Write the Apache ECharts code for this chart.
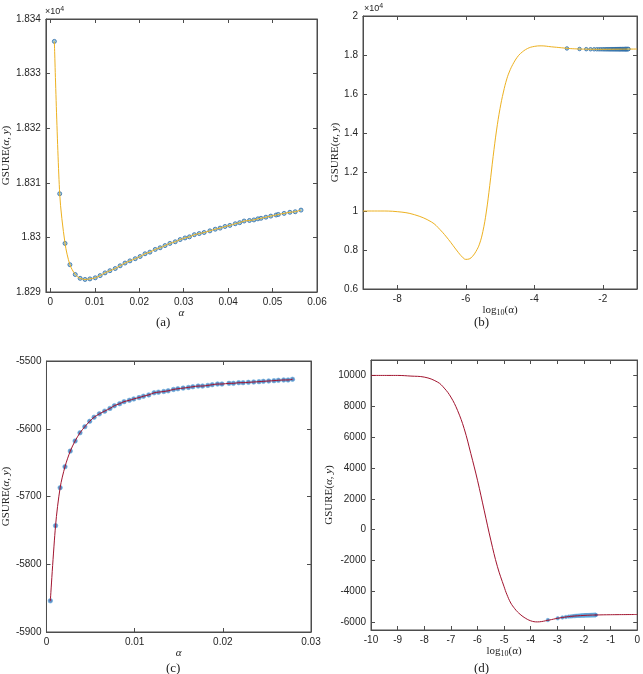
<!DOCTYPE html>
<html>
<head>
<meta charset="utf-8">
<script src="https://cdn.jsdelivr.net/npm/echarts@6/dist/echarts.min.js"></script>
<style>
html, body { margin: 0; padding: 0; background: #fff; }
#main { width: 643px; height: 674px; }
</style>
</head>
<body>
<div id="main"></div>
<script>
// (a) GSURE against alpha, first curve
const alphaA = [0.0009, 0.0021, 0.0033, 0.0044, 0.0056, 0.0067, 0.0078, 0.0089, 0.0101, 0.0112,
  0.0123, 0.0134, 0.0146, 0.0157, 0.0168, 0.0179, 0.0191, 0.0202, 0.0213, 0.0224,
  0.0236, 0.0247, 0.0258, 0.0269, 0.0281, 0.0292, 0.0303, 0.0313, 0.0324, 0.0335,
  0.0346, 0.0359, 0.0371, 0.0382, 0.0393, 0.0404, 0.0416, 0.0426, 0.0436, 0.0448,
  0.0458, 0.0467, 0.0474, 0.0485, 0.0496, 0.0508, 0.0513, 0.0526, 0.0539, 0.0551, 0.0564]
const gsureA = [18335.9, 18308.0, 18298.9, 18295.0, 18293.2, 18292.5, 18292.3, 18292.4, 18292.6, 18293.0,
  18293.5, 18293.9, 18294.3, 18294.8, 18295.3, 18295.7, 18296.1, 18296.5, 18297.0, 18297.3,
  18297.8, 18298.1, 18298.5, 18298.9, 18299.2, 18299.6, 18299.9, 18300.1, 18300.5, 18300.7,
  18300.9, 18301.2, 18301.5, 18301.7, 18302.0, 18302.2, 18302.5, 18302.7, 18303.0, 18303.1,
  18303.2, 18303.4, 18303.5, 18303.7, 18303.9, 18304.1, 18304.2, 18304.4, 18304.6, 18304.7, 18305.0]

// (b) same function over log10(alpha)
const logCurveB = [-9, -8.5, -8, -7.5, -7, -6.75, -6.5, -6.25, -6.1, -6.0, -5.9, -5.8, -5.7, -5.6, -5.5,
  -5.4, -5.3, -5.2, -5.1, -5.0, -4.9, -4.8, -4.7, -4.6, -4.5, -4.4, -4.2, -4.0, -3.8, -3.5,
  -3.2, -3.0, -2.75, -2.5, -2.0, -1.5, -1.0]
const gsureCurveB = [10000, 10000, 9966, 9812, 9436, 9043, 8530, 7949, 7640, 7520, 7540, 7680, 7930, 8300, 8950,
  9950, 11300, 12800, 14150, 15250, 16100, 16780, 17250, 17600, 17880, 18080, 18330, 18440, 18470, 18420,
  18370, 18336, 18312, 18299, 18293, 18300, 18306]

// (c) GSURE against alpha, second curve
const alphaC = [0.00044, 0.00103, 0.00155, 0.0021, 0.0027, 0.00325, 0.0038, 0.00435, 0.0049, 0.0054,
  0.0060, 0.0066, 0.0072, 0.0077, 0.0083, 0.0088, 0.0094, 0.0099, 0.0105, 0.0110,
  0.0116, 0.0122, 0.0127, 0.0133, 0.0138, 0.0144, 0.0149, 0.0155, 0.0161, 0.0166,
  0.0172, 0.0177, 0.0183, 0.0188, 0.0194, 0.0199, 0.0207, 0.0212, 0.0218, 0.0223,
  0.0229, 0.0235, 0.0241, 0.0246, 0.0252, 0.0258, 0.0263, 0.0269, 0.0274, 0.0279]
const gsureC = [-5854, -5743, -5687, -5656, -5633, -5618, -5606, -5597, -5589, -5583,
  -5578, -5574, -5570, -5566, -5563, -5560, -5558, -5556, -5554, -5552,
  -5550, -5547, -5546, -5545, -5544, -5542, -5541, -5540, -5539, -5538,
  -5537, -5537, -5536, -5535, -5534, -5534, -5533, -5533, -5532, -5532,
  -5531.5, -5531, -5530.5, -5530, -5529.5, -5529, -5528.5, -5528, -5528, -5527]

// (d) second function over log10(alpha)
const logCurveD = [-10, -9, -8.5, -8, -7.5, -7.25, -7, -6.75, -6.5, -6.25, -6, -5.75, -5.5, -5.25, -5,
  -4.9, -4.75, -4.6, -4.5, -4.4, -4.25, -4, -3.75, -3.6, -3.45, -3.3, -3, -2.8, -2.5, -2, -1.55, -1, 0]
const gsureCurveD = [10000, 10000, 9957, 9892, 9569, 9180, 8598, 7736, 6550, 4933, 3208, 1267, -674, -2399, -3700,
  -4180, -4750, -5120, -5320, -5480, -5680, -5905, -5975, -5955, -5905, -5854, -5743, -5687, -5618, -5555, -5527, -5510, -5495]

// tick labels
const xTicksA = [0, 0.01, 0.02, 0.03, 0.04, 0.05, 0.06]
const yTicksA = [18290, 18300, 18310, 18320, 18330, 18340]
const xTicksB = [-8, -6, -4, -2]
const yTicksB = [6000, 8000, 10000, 12000, 14000, 16000, 18000, 20000]
const xTicksC = [0, 0.01, 0.02, 0.03]
const yTicksC = [-5900, -5800, -5700, -5600, -5500]
const xTicksD = [-10, -9, -8, -7, -6, -5, -4, -3, -2, -1, 0]
const yTicksD = [-6000, -4000, -2000, 0, 2000, 4000, 6000, 8000, 10000]

const AXIS_COLOR = '#4d4d4d'
const LABEL_FONT = { fontFamily: 'Liberation Sans', fontSize: 10, color: '#262626' }
const SERIF = 'Liberation Serif'

const nameRich = {
  r: { fontFamily: SERIF, fontSize: 11, color: '#222' },
  i: { fontFamily: SERIF, fontSize: 11, fontStyle: 'italic', color: '#222' },
  s: { fontFamily: SERIF, fontSize: 8, color: '#222', verticalAlign: 'bottom', padding: [6, 0, 0, 0] }
}
const gsureName = '{r|GSURE(}{i|α, y}{r|)}'
const alphaName = '{i|α}'
const logName = '{r|log}{s|10}{r|(α)}'

function fmt(v) {
  return String(Math.round(v * 1000000) / 1000000)
}

// builds bottom/top x axes and left/right y axes for one box
function axesFor(g, xr, yr, xt, yt, yLabel, xName, xGap, yGap) {
  const base = {
    gridIndex: g,
    type: 'value',
    splitLine: { show: false },
    axisLine: { show: true, onZero: false, lineStyle: { color: AXIS_COLOR, width: 1 } }
  }
  const tick = vals => ({ inside: true, length: 4, customValues: vals, lineStyle: { color: AXIS_COLOR } })
  const xs = [
    Object.assign({}, base, {
      min: xr[0], max: xr[1], position: 'bottom',
      name: xName, nameLocation: 'middle', nameGap: xGap,
      nameTextStyle: { rich: nameRich },
      axisTick: tick(xt),
      axisLabel: Object.assign({ margin: 5, customValues: xt, formatter: fmt }, LABEL_FONT)
    }),
    Object.assign({}, base, {
      min: xr[0], max: xr[1], position: 'top',
      axisTick: tick(xt),
      axisLabel: { show: false }
    })
  ]
  const ys = [
    Object.assign({}, base, {
      min: yr[0], max: yr[1], position: 'left',
      name: gsureName, nameLocation: 'middle', nameGap: yGap, nameRotate: 90,
      nameTextStyle: { rich: nameRich },
      axisTick: tick(yt),
      axisLabel: Object.assign({ margin: 5, customValues: yt, formatter: yLabel }, LABEL_FONT)
    }),
    Object.assign({}, base, {
      min: yr[0], max: yr[1], position: 'right',
      axisTick: tick(yt),
      axisLabel: { show: false }
    })
  ]
  return { xs, ys }
}

const pA = axesFor(0, [-0.001, 0.06], [18290, 18340], xTicksA, yTicksA, v => fmt(v / 10000), alphaName, 14, 30)
const pB = axesFor(1, [-9, -1], [6000, 20000], xTicksB, yTicksB, v => fmt(v / 10000), logName, 13, 20)
const pC = axesFor(2, [0, 0.03], [-5900, -5500], xTicksC, yTicksC, v => fmt(v), alphaName, 13, 28)
const pD = axesFor(3, [-10, 0], [-6500, 11000], xTicksD, yTicksD, v => fmt(v), logName, 13, 31)

const xAxis = [].concat(pA.xs, pB.xs, pC.xs, pD.xs)
const yAxis = [].concat(pA.ys, pB.ys, pC.ys, pD.ys)

const zip = (xs, ys) => xs.map((x, i) => [x, ys[i]])
const markA = { color: '#8fbfd6', borderColor: '#2a6aa8', borderWidth: 1 }
const markC = { color: '#3c6db0', borderColor: '#6bb3e3', borderWidth: 0.8 }

const option = {
  animation: false,
  backgroundColor: '#fff',
  grid: [
    { left: 45, top: 19, width: 272, height: 273 },
    { left: 363, top: 16, width: 274, height: 273 },
    { left: 40, top: 361, width: 271, height: 271 },
    { left: 371, top: 360, width: 269, height: 270 }
  ].map(g => Object.assign({ show: true, borderColor: AXIS_COLOR, borderWidth: 1, containLabel: false }, g)),
  xAxis,
  yAxis,
  series: [
    // (a)
    { type: 'line', xAxisIndex: 0, yAxisIndex: 0, data: zip(alphaA, gsureA), smooth: 0.3,
      lineStyle: { color: '#EDB120', width: 1 }, symbol: 'none' },
    { type: 'scatter', xAxisIndex: 0, yAxisIndex: 0, data: zip(alphaA, gsureA), symbolSize: 4,
      itemStyle: markA },
    // (b)
    { type: 'line', xAxisIndex: 2, yAxisIndex: 2, data: zip(logCurveB, gsureCurveB), smooth: 0.4,
      lineStyle: { color: '#EDB120', width: 1 }, symbol: 'none' },
    { type: 'scatter', xAxisIndex: 2, yAxisIndex: 2, data: zip(alphaA.map(Math.log10), gsureA), symbolSize: 3.5,
      itemStyle: markA },
    // (c)
    { type: 'line', xAxisIndex: 4, yAxisIndex: 4, data: zip(alphaC, gsureC), smooth: 0.3,
      lineStyle: { color: '#A2142F', width: 1 }, symbol: 'none' },
    { type: 'scatter', xAxisIndex: 4, yAxisIndex: 4, data: zip(alphaC, gsureC), symbolSize: 4.5,
      itemStyle: markC },
    // (d)
    { type: 'line', xAxisIndex: 6, yAxisIndex: 6, data: zip(logCurveD, gsureCurveD), smooth: 0.4,
      lineStyle: { color: '#A2142F', width: 1 }, symbol: 'none' },
    { type: 'scatter', xAxisIndex: 6, yAxisIndex: 6, data: zip(alphaC.map(Math.log10), gsureC), symbolSize: 3.5,
      itemStyle: markC }
  ],
  graphic: [
    // exponent labels above the boxes
    { type: 'text', left: 45, top: 6, style: { text: '{r|×10}{s|4}', rich: {
      r: { fontFamily: 'Liberation Sans', fontSize: 9, fill: '#262626' },
      s: { fontFamily: 'Liberation Sans', fontSize: 7, fill: '#262626', verticalAlign: 'top', padding: [0, 0, 5, 0] } } } },
    { type: 'text', left: 364, top: 3, style: { text: '{r|×10}{s|4}', rich: {
      r: { fontFamily: 'Liberation Sans', fontSize: 9, fill: '#262626' },
      s: { fontFamily: 'Liberation Sans', fontSize: 7, fill: '#262626', verticalAlign: 'top', padding: [0, 0, 5, 0] } } } },
    // captions
    { type: 'text', left: 156, top: 316, style: { text: '(a)', font: '13px "Liberation Serif"', fill: '#222' } },
    { type: 'text', left: 474, top: 316, style: { text: '(b)', font: '13px "Liberation Serif"', fill: '#222' } },
    { type: 'text', left: 166, top: 662, style: { text: '(c)', font: '13px "Liberation Serif"', fill: '#222' } },
    { type: 'text', left: 474, top: 662, style: { text: '(d)', font: '13px "Liberation Serif"', fill: '#222' } }
  ]
}

const chart = echarts.init(document.getElementById('main'), null, { renderer: 'canvas' })
chart.setOption(option)
</script>
</body>
</html>
